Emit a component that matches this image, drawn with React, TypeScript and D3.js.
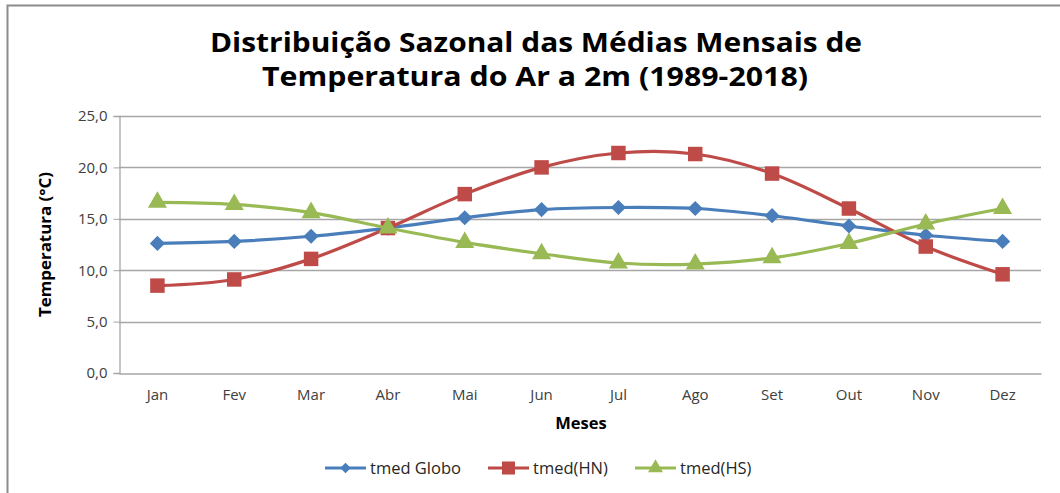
import React, { useRef, useEffect } from 'react';
import * as d3 from 'd3';

const months = ['Jan', 'Fev', 'Mar', 'Abr', 'Mai', 'Jun', 'Jul', 'Ago', 'Set', 'Out', 'Nov', 'Dez'];
const tmedGlobo = [12.6, 12.8, 13.3, 14.1, 15.1, 15.9, 16.1, 16.0, 15.3, 14.3, 13.4, 12.8];
const tmedHN = [8.5, 9.1, 11.1, 14.1, 17.4, 20.0, 21.4, 21.3, 19.4, 16.0, 12.3, 9.6];
const tmedHS = [16.6, 16.4, 15.6, 14.1, 12.7, 11.6, 10.7, 10.6, 11.2, 12.6, 14.5, 16.0];
const yTicks = [0, 5, 10, 15, 20, 25];

const seriesList = [
  { name: 'tmed Globo', values: tmedGlobo, color: '#4a7ebb', marker: 'diamond' },
  { name: 'tmed(HN)', values: tmedHN, color: '#be4b48', marker: 'square' },
  { name: 'tmed(HS)', values: tmedHS, color: '#98b954', marker: 'triangle' },
];

const W = 1060;
const H = 493;
const FONT = '"Open Sans", "Noto Sans", sans-serif';

function App() {
  const svgRef = useRef(null);

  useEffect(() => {
    const svg = d3.select(svgRef.current);
    svg.selectAll('*').remove();

    const left = 119, right = 1041, top = 116, bottom = 373;

    const x = d3.scaleBand().domain(months).range([left, right]);
    const y = d3.scaleLinear().domain([0, 25]).range([bottom, top]);
    const cx = (m) => x(m) + x.bandwidth() / 2;

    // border of the chart area
    svg.append('path')
      .attr('d', `M7.5,${H} L7.5,5.5 L${W},5.5`)
      .attr('fill', 'none')
      .attr('stroke', '#8c8c8c')
      .attr('stroke-width', 2);

    // title
    const title = svg.append('g')
      .attr('font-family', FONT)
      .attr('font-weight', 'bold')
      .attr('font-size', 26)
      .attr('fill', '#000');
    title.append('text').attr('x', 536).attr('y', 52).attr('text-anchor', 'middle')
      .attr('textLength', 652).attr('lengthAdjust', 'spacingAndGlyphs')
      .text('Distribuição Sazonal das Médias Mensais de');
    title.append('text').attr('x', 535).attr('y', 86).attr('text-anchor', 'middle')
      .attr('textLength', 546).attr('lengthAdjust', 'spacingAndGlyphs')
      .text('Temperatura do Ar a 2m (1989-2018)');

    // gridlines
    svg.append('g').selectAll('line')
      .data(yTicks.filter(t => t > 0))
      .join('line')
      .attr('x1', left).attr('x2', right)
      .attr('y1', d => Math.round(y(d)) + 0.5).attr('y2', d => Math.round(y(d)) + 0.5)
      .attr('stroke', '#a6a6a6').attr('stroke-width', 1.3);

    // y axis
    const yAxis = svg.append('g')
      .attr('transform', `translate(${left + 0.5},0)`)
      .call(d3.axisLeft(y).tickValues(yTicks).tickSize(6).tickPadding(6)
        .tickFormat(d => d3.format('.1f')(d).replace('.', ',')));
    yAxis.select('.domain').attr('stroke', '#a6a6a6').attr('stroke-width', 1.3);
    yAxis.selectAll('line').attr('stroke', '#a6a6a6');
    yAxis.selectAll('text').attr('font-family', FONT).attr('font-size', 15).attr('fill', '#404040');

    // x axis
    const xAxis = svg.append('g')
      .attr('transform', `translate(0,${bottom + 0.5})`)
      .call(d3.axisBottom(x).tickSize(0).tickPadding(16));
    xAxis.select('.domain').attr('stroke', '#a6a6a6').attr('stroke-width', 1.3);
    xAxis.selectAll('text').attr('font-family', FONT).attr('font-size', 15).attr('fill', '#404040');

    // axis titles
    svg.append('text')
      .attr('transform', `translate(51,${(top + bottom) / 2}) rotate(-90)`)
      .attr('text-anchor', 'middle')
      .attr('font-family', FONT).attr('font-weight', 'bold').attr('font-size', 16)
      .attr('fill', '#000')
      .attr('textLength', 145).attr('lengthAdjust', 'spacingAndGlyphs')
      .text('Temperatura (°C)');
    svg.append('text')
      .attr('x', 581).attr('y', 429)
      .attr('text-anchor', 'middle')
      .attr('font-family', FONT).attr('font-weight', 'bold').attr('font-size', 16.5)
      .attr('fill', '#000')
      .text('Meses');

    const symbolFor = (m, size) => {
      if (m === 'diamond') return d3.symbol().type(d3.symbolSquare).size(size * 0.55)();
      if (m === 'square') return d3.symbol().type(d3.symbolSquare).size(size)();
      return d3.symbol().type(d3.symbolTriangle).size(size * 0.75)();
    };
    const rotFor = (m) => (m === 'diamond' ? 45 : 0);

    const line = d3.line()
      .x((d, i) => cx(months[i]))
      .y(d => y(d))
      .curve(d3.curveCatmullRom.alpha(0));

    seriesList.forEach(s => {
      const g = svg.append('g');
      g.append('path')
        .attr('d', line(s.values))
        .attr('fill', 'none')
        .attr('stroke', s.color)
        .attr('stroke-width', 3.2);
      g.selectAll('path.mk')
        .data(s.values)
        .join('path')
        .attr('class', 'mk')
        .attr('d', symbolFor(s.marker, 210))
        .attr('transform', (d, i) => `translate(${cx(months[i])},${y(d)}) rotate(${rotFor(s.marker)})`)
        .attr('fill', s.color);
    });

    // legend
    const legendX = [325, 488, 635];
    const legendSize = { diamond: 100, square: 170, triangle: 130 };
    const legend = svg.append('g');
    seriesList.forEach((s, i) => {
      const lg = legend.append('g').attr('transform', `translate(${legendX[i]},468)`);
      lg.append('line').attr('x1', 0).attr('x2', 41).attr('y1', 0).attr('y2', 0)
        .attr('stroke', s.color).attr('stroke-width', 3.2);
      lg.append('path')
        .attr('d', symbolFor(s.marker, legendSize[s.marker]))
        .attr('transform', `translate(20.5,0) rotate(${rotFor(s.marker)})`)
        .attr('fill', s.color);
      lg.append('text')
        .attr('x', 45).attr('y', 6)
        .attr('font-family', FONT).attr('font-size', 16.5)
        .attr('fill', '#262626')
        .text(s.name);
    });
  }, []);

  return (
    <svg ref={svgRef} width={W} height={H}
      style={{ position: 'absolute', left: 0, top: 0, background: '#fff' }} />
  );
}

export default App;
